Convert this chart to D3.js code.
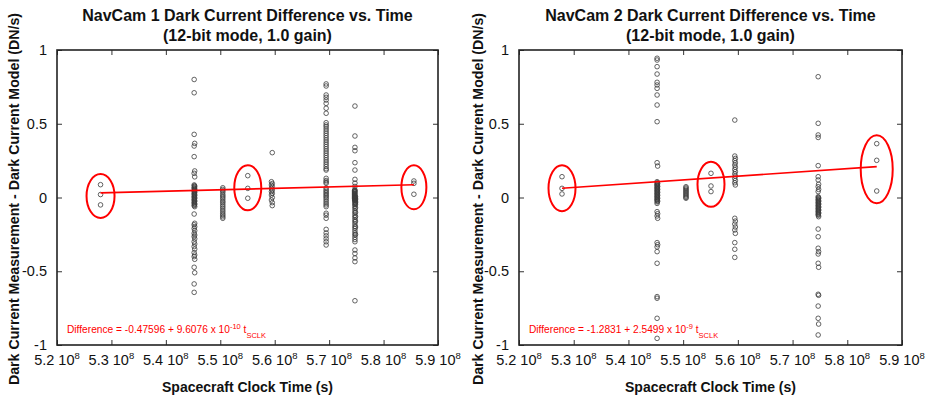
<!DOCTYPE html>
<html><head><meta charset="utf-8">
<script src="https://cdn.jsdelivr.net/npm/d3@7"></script>
<style>
body{margin:0;background:#fff}
svg{display:block}
text{font-family:"Liberation Sans",Arial,Helvetica,sans-serif}
</style>
</head><body>
<svg id="chart" width="929" height="399"></svg>
<script>
// ---------- DATA ----------
const xTickValues = [5.2e8, 5.3e8, 5.4e8, 5.5e8, 5.6e8, 5.7e8, 5.8e8, 5.9e8];
const xTickMantissa = ["5.2", "5.3", "5.4", "5.5", "5.6", "5.7", "5.8", "5.9"];
const xTickExponent = "8";
const yTickValues = [-1, -0.5, 0, 0.5, 1];
const yTickLabels = ["-1", "-0.5", "0", "0.5", "1"];

const cam1Title = ["NavCam 1 Dark Current Difference vs. Time", "(12-bit mode, 1.0 gain)"];
const cam2Title = ["NavCam 2 Dark Current Difference vs. Time", "(12-bit mode, 1.0 gain)"];
const xAxisLabel = "Spacecraft Clock Time (s)";
const yAxisLabel = "Dark Current Measurement - Dark Current Model (DN/s)";

// NavCam 1 measurement columns (spacecraft clock time, s) and differences (DN/s)
const cam1Times = [5.28e8, 5.4520e8, 5.4525e8, 5.4530e8, 5.5046e8, 5.5505e8, 5.5940e8, 5.5955e8, 5.6945e8, 5.7468e8, 5.7474e8, 5.7484e8, 5.8557e8];
const cam1Values = [
  [0.087, 0.02, -0.05],
  [0.80, 0.71, 0.428, 0.349, 0.277, 0.164, 0.085, 0.065, 0.045, 0.025, 0.005, -0.015, -0.035, -0.055, -0.112, -0.185, -0.21, -0.243, -0.265, -0.3, -0.333, -0.374, -0.401, -0.473, -0.586, -0.643],
  [0.08, 0.07, 0.06, 0.05, 0.04, 0.03, 0.02, 0.01, 0, -0.01, -0.02, -0.03, -0.04, -0.05],
  [0.367, 0.18, 0.14, 0.075, 0.055, 0.035, 0.015, -0.005, -0.025, -0.045, -0.062, -0.175, -0.198, -0.225, -0.255, -0.28, -0.315, -0.35, -0.39, -0.419, -0.51],
  [0.066, 0.055, 0.045, 0.035, 0.02, 0.01, 0, -0.012, -0.025, -0.035, -0.048, -0.06, -0.072, -0.085, -0.097, -0.11, -0.12, -0.131, -0.141],
  [0.148, 0.062, -0.005],
  [0.107, 0.085, 0.062, 0.04, 0.017, -0.017],
  [0.304, 0.095, 0.075, 0.05, 0.028, 0, -0.035, -0.055],
  [0.77, 0.756, 0.695, 0.679, 0.661, 0.638, 0.605, 0.571, 0.507, 0.492, 0.48, 0.465, 0.45, 0.435, 0.42, 0.405, 0.39, 0.375, 0.36, 0.345, 0.33, 0.315, 0.30, 0.285, 0.27, 0.255, 0.24, 0.225, 0.21, 0.195, 0.186, 0.13, 0.115, 0.105, 0.096, 0.062, 0.05, 0.04, 0.03, 0.02, 0.01, 0, -0.012, -0.025, -0.038, -0.05, -0.062, -0.107, -0.12, -0.141, -0.216, -0.24, -0.26, -0.28, -0.3, -0.322],
  [0.05, 0.045, 0.04, 0.035, 0.03, 0.025, 0.02, 0.015, 0.01, 0.005, 0.0, -0.005, -0.01, -0.017],
  [0.62, 0.417, 0.34, 0.317, 0.236, 0.186, 0.123, 0.098, 0.075, 0.051, 0.04, 0.025, 0.01, 0, -0.01, -0.02, -0.03, -0.04, -0.05, -0.06, -0.075, -0.09, -0.105, -0.12, -0.135, -0.15, -0.165, -0.18, -0.195, -0.21, -0.225, -0.24, -0.255, -0.27, -0.285, -0.3, -0.356, -0.38, -0.41, -0.435, -0.70],
  [0.005, -0.005, -0.015, -0.025, -0.035, -0.045, -0.07, -0.1, -0.13, -0.16, -0.2, -0.25],
  [0.112, 0.096, 0.022]
];
const cam1FitCoef = [-0.47596, 9.6076e-10];
const cam1Equation = ["Difference = -0.47596 + 9.6076 x 10", "-10", " t", "SCLK"];
const cam1Circled = [[5.28e8, 0.01], [5.5505e8, 0.066], [5.8557e8, 0.069]];

// NavCam 2
const cam2Times = [5.2786e8, 5.4524e8, 5.4526e8, 5.4534e8, 5.5052e8, 5.5509e8, 5.5944e8, 5.5954e8, 5.7468e8, 5.7473e8, 5.7476e8, 5.8538e8];
const cam2Values = [
  [0.141, 0.062, 0.024],
  [0.944, 0.932, 0.887, 0.837, 0.781, 0.763, 0.74, 0.695, 0.627, 0.514, 0.236, 0.107, 0.085, 0.065, 0.045, 0.025, 0.005, -0.015, -0.04, -0.096, -0.125, -0.306, -0.335, -0.367, -0.446, -0.672, -0.683, -0.819, -0.955],
  [0.1, 0.09, 0.08, 0.07, 0.06, 0.05, 0.04, 0.03, 0.02, 0.01, 0, -0.01, -0.02, -0.03],
  [0.213, 0.095, 0.075, 0.055, 0.035, 0.015, -0.005, -0.025, -0.11, -0.141, -0.32],
  [0.073, 0.065, 0.057, 0.049, 0.041, 0.033, 0.025, 0.017, 0.009, 0.001, -0.005],
  [0.164, 0.078, 0.04],
  [0.525, 0.281, 0.25, 0.22, 0.19, 0.16, 0.13, 0.1, -0.141, -0.18, -0.22, -0.306, -0.351, -0.406],
  [0.265, 0.235, 0.205, 0.175, 0.145, 0.115, 0.085, -0.16, -0.2, -0.243],
  [0.819, 0.503, 0.424, 0.407, 0.216, 0.141, 0.119, 0.073, 0.04, 0.005, -0.015, -0.035, -0.055, -0.075, -0.095, -0.115, -0.214, -0.266, -0.344, -0.383, -0.446, -0.656, -0.736, -0.819, -0.932],
  [0, -0.01, -0.02, -0.03, -0.04, -0.05, -0.06, -0.07, -0.08, -0.09, -0.1, -0.11, -0.12],
  [0.09, 0.055, -0.005, -0.025, -0.045, -0.065, -0.085, -0.105, -0.13, -0.367, -0.473, -0.663, -0.858],
  [0.365, 0.252, 0.044]
];
const cam2FitCoef = [-1.2831, 2.5499e-9];
const cam2Equation = ["Difference = -1.2831 + 2.5499 x 10", "-9", " t", "SCLK"];
const cam2Circled = [[5.2786e8, 0.062], [5.5509e8, 0.089], [5.8538e8, 0.191]];

// ---------- LAYOUT / STYLE ----------
const plotTop = 50, plotBottom = 345;
const panels = [
  {x0: 57, x1: 438, title: cam1Title, times: cam1Times, values: cam1Values, fit: cam1FitCoef,
   eq: cam1Equation, circled: cam1Circled, ellR: [[14, 22], [13.5, 22.5], [12.5, 22]], yLabelX: 19},
  {x0: 519, x1: 902, title: cam2Title, times: cam2Times, values: cam2Values, fit: cam2FitCoef,
   eq: cam2Equation, circled: cam2Circled, ellR: [[13.5, 23], [13.5, 22.5], [16, 34]], yLabelX: 483}
];

const svg = d3.select("#chart");
svg.append("rect").attr("width", 929).attr("height", 399).attr("fill", "#fff");

panels.forEach(p => {
  const x = d3.scaleLinear().domain([xTickValues[0], xTickValues[xTickValues.length - 1]]).range([p.x0, p.x1]);
  const y = d3.scaleLinear().domain([-1, 1]).range([plotBottom, plotTop]);
  const g = svg.append("g");
  const cx = (p.x0 + p.x1) / 2;

  // titles
  g.append("text").attr("x", cx).attr("y", 21).attr("text-anchor", "middle")
    .attr("font-weight", "bold").attr("font-size", 16).attr("fill", "#111").text(p.title[0]);
  g.append("text").attr("x", cx).attr("y", 41).attr("text-anchor", "middle")
    .attr("font-weight", "bold").attr("font-size", 16).attr("fill", "#111").text(p.title[1]);

  // points
  p.times.forEach((t, i) => {
    g.append("g").selectAll("circle").data(p.values[i]).join("circle")
      .attr("cx", x(t)).attr("cy", d => y(d)).attr("r", 2.3)
      .attr("fill", "none").attr("stroke", "#3c3c3c").attr("stroke-width", 0.8);
  });

  // fit line
  const tRange = [p.circled[0][0], p.circled[p.circled.length - 1][0]];
  const line = d3.line().x(d => x(d)).y(d => y(p.fit[0] + p.fit[1] * d));
  g.append("path").attr("d", line(tRange)).attr("fill", "none")
    .attr("stroke", "#ff0000").attr("stroke-width", 1.6);

  // circled clusters
  p.circled.forEach((c, i) => {
    g.append("ellipse").attr("cx", x(c[0])).attr("cy", y(c[1]))
      .attr("rx", p.ellR[i][0]).attr("ry", p.ellR[i][1])
      .attr("fill", "none").attr("stroke", "#ff0000").attr("stroke-width", 2);
  });

  // axes with inward ticks
  const axB = g.append("g").attr("transform", `translate(0,${plotBottom})`)
    .call(d3.axisBottom(x).tickValues(xTickValues).tickSize(-5).tickFormat(""));
  const axT = g.append("g").attr("transform", `translate(0,${plotTop})`)
    .call(d3.axisTop(x).tickValues(xTickValues).tickSize(-5).tickFormat(""));
  const axL = g.append("g").attr("transform", `translate(${p.x0},0)`)
    .call(d3.axisLeft(y).tickValues(yTickValues).tickSize(-5).tickFormat(""));
  const axR = g.append("g").attr("transform", `translate(${p.x1},0)`)
    .call(d3.axisRight(y).tickValues(yTickValues).tickSize(-5).tickFormat(""));
  [axB, axT, axL, axR].forEach(a => {
    a.select(".domain").remove();
    a.selectAll(".tick line").attr("stroke", "#333").attr("stroke-width", 1);
  });
  g.append("rect").attr("x", p.x0).attr("y", plotTop).attr("width", p.x1 - p.x0)
    .attr("height", plotBottom - plotTop).attr("fill", "none").attr("stroke", "#222").attr("stroke-width", 1.6);

  // x tick labels
  xTickValues.forEach((v, i) => {
    const t = g.append("text").attr("x", x(v)).attr("y", 365).attr("text-anchor", "middle")
      .attr("font-size", 14.5).attr("fill", "#111");
    t.append("tspan").text(xTickMantissa[i] + " 10");
    t.append("tspan").attr("dy", -6.5).attr("font-size", 9.5).text(xTickExponent);
  });
  // y tick labels
  g.selectAll(".ytl").data(yTickValues).join("text")
    .attr("x", p.x0 - 10).attr("y", d => y(d)).attr("dy", "0.35em")
    .attr("text-anchor", "end").attr("font-size", 14.5).attr("fill", "#111")
    .text((d, i) => yTickLabels[i]);

  // axis labels
  g.append("text").attr("x", cx).attr("y", 392).attr("text-anchor", "middle")
    .attr("font-weight", "bold").attr("font-size", 14).attr("fill", "#111").text(xAxisLabel);
  g.append("text").attr("transform", `translate(${p.yLabelX},199) rotate(-90)`)
    .attr("text-anchor", "middle").attr("font-weight", "bold").attr("font-size", 14.2)
    .attr("fill", "#111").text(yAxisLabel);

  // equation
  const eq = g.append("text").attr("x", p.x0 + 10).attr("y", 333)
    .attr("font-size", 10.2).attr("fill", "#ff0000");
  eq.append("tspan").text(p.eq[0]);
  eq.append("tspan").attr("dy", -4.5).attr("font-size", 7.5).text(p.eq[1]);
  eq.append("tspan").attr("dy", 4.5).text(p.eq[2]);
  eq.append("tspan").attr("dy", 4.5).attr("font-size", 7.5).text(p.eq[3]);
});
</script>
</body></html>
